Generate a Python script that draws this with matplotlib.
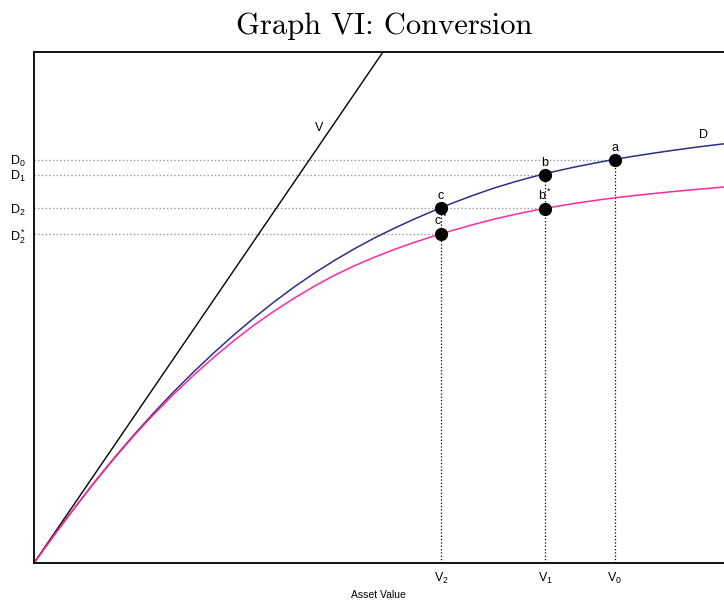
import matplotlib.pyplot as plt

plt.rcParams['font.family'] = ['Liberation Sans', 'DejaVu Sans']

# curves (x, y in chart units)
d_x = [0, 20, 40, 60, 80, 100, 120, 140, 160, 180, 200, 220, 240, 260, 280, 300, 320, 340,
       360, 380, 400, 420, 440, 460, 480, 500, 520, 540, 560, 580, 600, 620, 640, 660,
       680, 700, 720]
d_y = [0, 27.6, 54.4, 80.2, 104.8, 128.2, 150.4, 171.5, 191.4, 210.3, 228.2, 245.1, 261.0,
       275.9, 289.6, 302.3, 314.0, 324.8, 334.6, 343.8, 352.4, 360.5, 368.0, 374.9, 381.0,
       386.5, 391.4, 395.8, 399.8, 403.5, 406.8, 409.9, 412.8, 415.5, 418.0, 420.4, 422.6]

dstar_x = d_x
dstar_y = [0, 27.6, 54.2, 79.8, 104.2, 127.3, 148.8, 169.0, 188.0, 205.8, 222.4, 237.8,
           251.8, 264.7, 276.6, 287.4, 297.0, 305.6, 313.4, 320.5, 327.0, 333.0, 338.6,
           343.8, 348.4, 352.6, 356.2, 359.5, 362.4, 365.1, 367.4, 369.5, 371.5, 373.4,
           375.1, 376.8, 378.4]

v_x = [0, 420]
v_y = [0, 615]

# labelled points
pt_names = ['a', 'b', 'b*', 'c', 'c*']
pt_x = [581, 511, 511, 407, 407]
pt_y = [403.5, 388.5, 354, 355, 329]

x_ticks = [407, 511, 581]
x_labels = ['$\\mathregular{V_2}$', '$\\mathregular{V_1}$', '$\\mathregular{V_0}$']
y_ticks = [403.5, 388.5, 355, 329]
y_labels = ['$\\mathregular{D_0}$', '$\\mathregular{D_1}$', '$\\mathregular{D_2}$', '$\\mathregular{D_2^*}$']

fig = plt.figure(figsize=(7.24, 6), dpi=100)
ax = fig.add_axes([34 / 724, 37 / 600, 700 / 724, 511 / 600])
ax.set_xlim(0, 700)
ax.set_ylim(0, 511)

# guide lines
ax.hlines(y_ticks[0], 0, pt_x[0], colors='#999999', linestyles=':', lw=1)
ax.hlines(y_ticks[1], 0, pt_x[1], colors='#999999', linestyles=':', lw=1)
ax.hlines(y_ticks[2], 0, pt_x[2], colors='#999999', linestyles=':', lw=1)
ax.hlines(y_ticks[3], 0, pt_x[4], colors='#999999', linestyles=':', lw=1)
ax.vlines(pt_x[0], 0, pt_y[0], colors='black', linestyles=':', lw=0.9)
ax.vlines(pt_x[1], 0, pt_y[1], colors='black', linestyles=':', lw=0.9)
ax.vlines(pt_x[3], 0, pt_y[3], colors='black', linestyles=':', lw=0.9)

ax.plot(v_x, v_y, color='black', lw=1)
ax.plot(d_x, d_y, color='#2e2e85', lw=1.1)
ax.plot(dstar_x, dstar_y, color='#ff2a9d', lw=1.1)
ax.plot(pt_x, pt_y, 'o', color='black', ms=8.5, zorder=5)

for name, x, y in zip(pt_names, pt_x, pt_y):
    if name.endswith('*'):
        lab = '$\\mathregular{' + name[0] + '^*}$'
    else:
        lab = name
    ax.annotate(lab, (x, y), xytext=(0, 4), textcoords='offset points',
                ha='center', va='bottom', fontsize=9)

ax.text(285, 435, 'V', fontsize=9, ha='center', va='center')
ax.text(670, 428, 'D', fontsize=9, ha='center', va='center')

ax.set_xticks(x_ticks)
ax.set_xticklabels(x_labels, fontsize=9)
ax.set_yticks(y_ticks)
ax.set_yticklabels(y_labels, fontsize=9)
ax.tick_params(axis='x', length=0, pad=6)
ax.tick_params(axis='y', length=0, pad=6)
ax.set_xlabel('Asset Value', fontsize=7.5)
ax.xaxis.set_label_coords(344 / 700, -0.052)

for s in ['left', 'bottom', 'top']:
    ax.spines[s].set_linewidth(1.3)
ax.spines['right'].set_visible(False)

fig.text(384 / 724, 1 - 26 / 600, 'Graph VI: Conversion', fontfamily='cmr10',
         fontsize=22, ha='center', va='center')

fig.savefig('out.png', dpi=100)
